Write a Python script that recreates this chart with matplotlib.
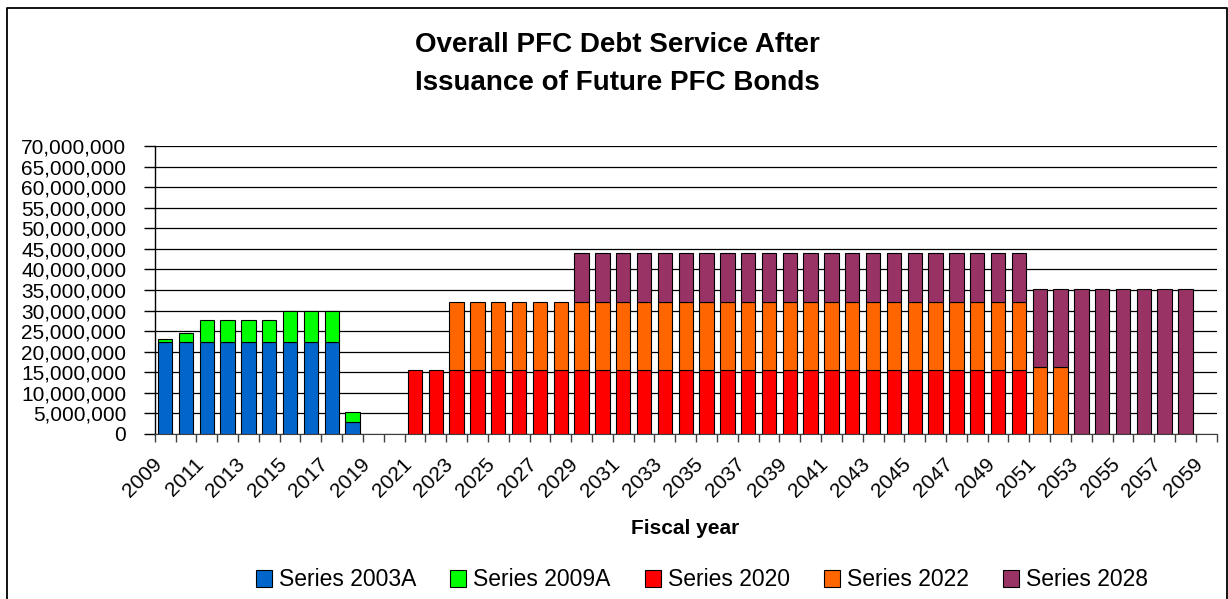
import numpy as np
import matplotlib.pyplot as plt
from matplotlib.ticker import FuncFormatter, MultipleLocator
from matplotlib.lines import Line2D
from matplotlib.transforms import ScaledTranslation

plt.rcParams['font.family'] = ['Liberation Sans', 'DejaVu Sans']

# fiscal years 2009 .. 2059
years = list(range(2009, 2060))

# debt service in millions, one row = 10 years (2009-2018, 2019-2028, ...)
s2003a = [22.4, 22.4, 22.4, 22.4, 22.4, 22.4, 22.4, 22.4, 22.4, 2.9,
          0, 0, 0, 0, 0, 0, 0, 0, 0, 0,
          0, 0, 0, 0, 0, 0, 0, 0, 0, 0,
          0, 0, 0, 0, 0, 0, 0, 0, 0, 0,
          0, 0, 0, 0, 0, 0, 0, 0, 0, 0,
          0]
s2009a = [0.7, 2.2, 5.3, 5.3, 5.3, 5.3, 7.5, 7.5, 7.5, 2.4,
          0, 0, 0, 0, 0, 0, 0, 0, 0, 0,
          0, 0, 0, 0, 0, 0, 0, 0, 0, 0,
          0, 0, 0, 0, 0, 0, 0, 0, 0, 0,
          0, 0, 0, 0, 0, 0, 0, 0, 0, 0,
          0]
s2020 = [0, 0, 0, 0, 0, 0, 0, 0, 0, 0,
         0, 0, 15.5, 15.5, 15.5, 15.5, 15.5, 15.5, 15.5, 15.5,
         15.5, 15.5, 15.5, 15.5, 15.5, 15.5, 15.5, 15.5, 15.5, 15.5,
         15.5, 15.5, 15.5, 15.5, 15.5, 15.5, 15.5, 15.5, 15.5, 15.5,
         15.5, 15.5, 0, 0, 0, 0, 0, 0, 0, 0,
         0]
s2022 = [0, 0, 0, 0, 0, 0, 0, 0, 0, 0,
         0, 0, 0, 0, 16.5, 16.5, 16.5, 16.5, 16.5, 16.5,
         16.5, 16.5, 16.5, 16.5, 16.5, 16.5, 16.5, 16.5, 16.5, 16.5,
         16.5, 16.5, 16.5, 16.5, 16.5, 16.5, 16.5, 16.5, 16.5, 16.5,
         16.5, 16.5, 16.3, 16.3, 0, 0, 0, 0, 0, 0,
         0]
s2028 = [0, 0, 0, 0, 0, 0, 0, 0, 0, 0,
         0, 0, 0, 0, 0, 0, 0, 0, 0, 0,
         11.9, 11.9, 11.9, 11.9, 11.9, 11.9, 11.9, 11.9, 11.9, 11.9,
         11.9, 11.9, 11.9, 11.9, 11.9, 11.9, 11.9, 11.9, 11.9, 11.9,
         11.9, 11.9, 18.9, 18.9, 35.2, 35.2, 35.2, 35.2, 35.2, 35.2,
         0]

series_names = ['Series 2003A', 'Series 2009A', 'Series 2020', 'Series 2022', 'Series 2028']
series_colors = ['#0066CC', '#00FF00', '#FF0000', '#FF6600', '#993366']

fig = plt.figure(figsize=(12.28, 5.99), dpi=100)
ax = fig.add_axes([0.126, 0.2755, 0.8648, 0.4808])

x = np.arange(len(years))
bottom = np.zeros(len(years))
handles = []
for vals, name, color in zip([s2003a, s2009a, s2020, s2022, s2028], series_names, series_colors):
    v = np.array(vals, dtype=float) * 1e6
    m = v > 0
    ax.bar(x[m], v[m], 0.69, bottom=bottom[m], color=color,
           edgecolor='black', linewidth=0.8, zorder=3)
    handles.append(plt.Rectangle((0, 0), 1, 1, facecolor=color, edgecolor='black', linewidth=0.8))
    bottom += v

ax.set_xlim(-0.5, len(years) - 0.5)
ax.set_ylim(0, 70e6)
ax.yaxis.set_major_locator(MultipleLocator(5e6))
ax.yaxis.set_major_formatter(FuncFormatter(lambda v, p: f'{v:,.0f}'))
ax.grid(axis='y', color='black', linewidth=0.9, zorder=0)
ax.set_axisbelow(True)
for s in ['top', 'right']:
    ax.spines[s].set_visible(False)
ax.spines['left'].set_linewidth(1.0)
ax.spines['bottom'].set_color('#404040')
ax.tick_params(axis='y', length=8, width=1, pad=12.5, labelsize=15)

ax.set_xticks(x[::2])
ax.set_xticklabels([str(y) for y in years[::2]], rotation=45, ha='right',
                   va='top', rotation_mode='anchor', fontsize=15)
ax.set_xticks(np.arange(-0.5, len(years), 1), minor=True)
ax.tick_params(axis='x', which='major', length=0, pad=15)
ax.tick_params(axis='x', which='minor', length=6, width=1, color='#404040')
shift = ScaledTranslation(-13 / 100, 0, fig.dpi_scale_trans)
for lab in ax.get_xticklabels():
    lab.set_transform(lab.get_transform() + shift)

fig.text(617 / 1228, 1 - 45 / 599, 'Overall PFC Debt Service After',
         ha='center', va='center', fontsize=20, fontweight='bold')
fig.text(617 / 1228, 1 - 83 / 599, 'Issuance of Future PFC Bonds',
         ha='center', va='center', fontsize=20, fontweight='bold')
fig.text(685 / 1228, 1 - 528 / 599, 'Fiscal year', ha='center', va='center',
         fontsize=15, fontweight='bold')

fig.legend(handles, series_names, loc='center', bbox_to_anchor=(702 / 1228, 1 - 580 / 599),
           ncol=5, frameon=False, fontsize=16.5, handlelength=0.7, handleheight=0.7,
           handletextpad=0.3, columnspacing=1.5, borderaxespad=0)

# outer chart border
fig.add_artist(Line2D([7 / 1228, 7 / 1228, 1227 / 1228, 1227 / 1228],
                      [-0.01, 1 - 8 / 599, 1 - 8 / 599, -0.01],
                      transform=fig.transFigure, color='black', linewidth=1.3))

fig.savefig('out.png', dpi=100)
